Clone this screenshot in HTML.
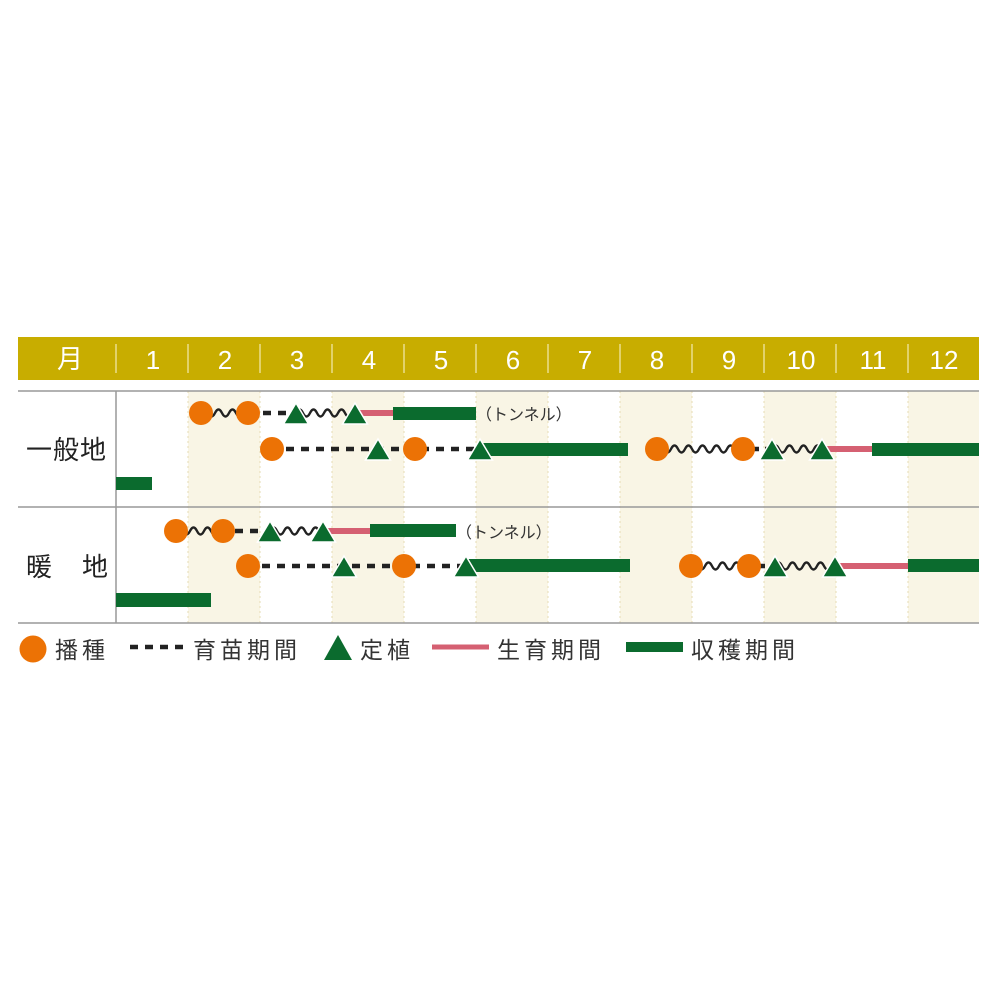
<!DOCTYPE html>
<html><head><meta charset="utf-8"><style>
html,body{margin:0;padding:0;background:#fff;}
svg{display:block;}
text{font-family:"Liberation Sans","Noto Sans CJK JP",sans-serif;}
</style></head><body>
<svg width="1000" height="1000" viewBox="0 0 1000 1000" xmlns="http://www.w3.org/2000/svg">
<defs>
<path id="tri" d="M0,-21 L12.5,0 L-12.5,0 Z" fill="#0b6b2e" stroke="#fff" stroke-width="1.5"/>
</defs>
<g fill="#f9f5e5">
<rect x="188" y="391" width="72" height="232"/>
<rect x="332" y="391" width="72" height="232"/>
<rect x="476" y="391" width="72" height="232"/>
<rect x="620" y="391" width="72" height="232"/>
<rect x="764" y="391" width="72" height="232"/>
<rect x="908" y="391" width="71" height="232"/>
</g>
<g stroke="#e6dcb4" stroke-width="1" stroke-dasharray="2,3">
<line x1="188" y1="391" x2="188" y2="623"/><line x1="260" y1="391" x2="260" y2="623"/>
<line x1="332" y1="391" x2="332" y2="623"/><line x1="404" y1="391" x2="404" y2="623"/>
<line x1="476" y1="391" x2="476" y2="623"/><line x1="548" y1="391" x2="548" y2="623"/>
<line x1="620" y1="391" x2="620" y2="623"/><line x1="692" y1="391" x2="692" y2="623"/>
<line x1="764" y1="391" x2="764" y2="623"/><line x1="836" y1="391" x2="836" y2="623"/>
<line x1="908" y1="391" x2="908" y2="623"/>
</g>
<rect x="18" y="337" width="961" height="43" fill="#c8ad00"/>
<g stroke="#f3ebb0" stroke-width="1.2">
<line x1="116" y1="344" x2="116" y2="373"/><line x1="188" y1="344" x2="188" y2="373"/>
<line x1="260" y1="344" x2="260" y2="373"/><line x1="332" y1="344" x2="332" y2="373"/>
<line x1="404" y1="344" x2="404" y2="373"/><line x1="476" y1="344" x2="476" y2="373"/>
<line x1="548" y1="344" x2="548" y2="373"/><line x1="620" y1="344" x2="620" y2="373"/>
<line x1="692" y1="344" x2="692" y2="373"/><line x1="764" y1="344" x2="764" y2="373"/>
<line x1="836" y1="344" x2="836" y2="373"/><line x1="908" y1="344" x2="908" y2="373"/>
</g>
<g fill="#fff" font-size="26" text-anchor="middle">
<text x="70" y="368">月</text>
<text x="153" y="369">1</text><text x="225" y="369">2</text><text x="297" y="369">3</text>
<text x="369" y="369">4</text><text x="441" y="369">5</text><text x="513" y="369">6</text>
<text x="585" y="369">7</text><text x="657" y="369">8</text><text x="729" y="369">9</text>
<text x="801" y="369">10</text><text x="873" y="369">11</text><text x="944" y="369">12</text>
</g>
<g stroke="#999" stroke-width="1.5">
<line x1="18" y1="391" x2="979" y2="391"/>
<line x1="18" y1="507" x2="979" y2="507"/>
<line x1="18" y1="623" x2="979" y2="623"/>
<line x1="116" y1="391" x2="116" y2="623"/>
</g>
<g fill="#222" font-size="26">
<text x="26" y="459" letter-spacing="1">一般地</text>
<text x="26" y="576">暖</text><text x="82" y="576">地</text>
</g>

<!-- Row 1 line 1 -->
<g fill="none" stroke="#222" stroke-width="2.4">
<path d="M201,413 q3.5,-7 7,0 t7,0 t7,0 t7,0 t7,0 t7,0 t7,0"/>
<path d="M296,413 q3.5,-7 7,0 t7,0 t7,0 t7,0 t7,0 t7,0 t7,0 t7,0"/>
<path d="M657,449 q3.5,-7 7,0 t7,0 t7,0 t7,0 t7,0 t7,0 t7,0 t7,0 t7,0 t7,0 t7,0 t7,0"/>
<path d="M772,449 q3.5,-7 7,0 t7,0 t7,0 t7,0 t7,0 t7,0 t7,0"/>
<path d="M176,531 q3.5,-7 7,0 t7,0 t7,0 t7,0 t7,0 t7,0 t7,0"/>
<path d="M270,531 q3.5,-7 7,0 t7,0 t7,0 t7,0 t7,0 t7,0 t7,0 t7,0"/>
<path d="M691,566 q3.5,-7 7,0 t7,0 t7,0 t7,0 t7,0 t7,0 t7,0 t7,0"/>
<path d="M775,566 q3.5,-7 7,0 t7,0 t7,0 t7,0 t7,0 t7,0 t7,0 t7,0"/>
</g>
<line x1="248" y1="413" x2="296" y2="413" stroke="#222" stroke-width="4.5" stroke-dasharray="8,7"/>
<line x1="355" y1="413" x2="393" y2="413" stroke="#d56072" stroke-width="6"/>
<rect x="393" y="407" width="83" height="13" fill="#0b6b2e"/>
<circle cx="201" cy="413" r="12" fill="#ec7205"/><circle cx="248" cy="413" r="12" fill="#ec7205"/>
<use href="#tri" x="296" y="424"/><use href="#tri" x="355" y="424"/>
<text x="476" y="420" font-size="16" fill="#333">（トンネル）</text>

<!-- Row 1 line 2 -->
<line x1="272" y1="449" x2="480" y2="449" stroke="#222" stroke-width="4.5" stroke-dasharray="8,7" stroke-dashoffset="-14"/>
<rect x="480" y="443" width="148" height="13" fill="#0b6b2e"/>
<circle cx="272" cy="449" r="12" fill="#ec7205"/><circle cx="415" cy="449" r="12" fill="#ec7205"/>
<use href="#tri" x="378" y="460"/><use href="#tri" x="480" y="460"/>
<line x1="743" y1="449" x2="772" y2="449" stroke="#222" stroke-width="4.5" stroke-dasharray="6,6" stroke-dashoffset="-10"/>
<line x1="822" y1="449" x2="872" y2="449" stroke="#d56072" stroke-width="6"/>
<rect x="872" y="443" width="107" height="13" fill="#0b6b2e"/>
<circle cx="657" cy="449" r="12" fill="#ec7205"/><circle cx="743" cy="449" r="12" fill="#ec7205"/>
<use href="#tri" x="772" y="460"/><use href="#tri" x="822" y="460"/>
<rect x="116" y="477" width="36" height="13" fill="#0b6b2e"/>

<!-- Row 2 line 1 -->
<line x1="223" y1="531" x2="270" y2="531" stroke="#222" stroke-width="4.5" stroke-dasharray="8,7" stroke-dashoffset="-12"/>
<line x1="323" y1="531" x2="370" y2="531" stroke="#d56072" stroke-width="6"/>
<rect x="370" y="524" width="86" height="13" fill="#0b6b2e"/>
<circle cx="176" cy="531" r="12" fill="#ec7205"/><circle cx="223" cy="531" r="12" fill="#ec7205"/>
<use href="#tri" x="270" y="542"/><use href="#tri" x="323" y="542"/>
<text x="456" y="538" font-size="16" fill="#333">（トンネル）</text>

<!-- Row 2 line 2 -->
<line x1="248" y1="566" x2="466" y2="566" stroke="#222" stroke-width="4.5" stroke-dasharray="8,7" stroke-dashoffset="-14"/>
<rect x="466" y="559" width="164" height="13" fill="#0b6b2e"/>
<circle cx="248" cy="566" r="12" fill="#ec7205"/><circle cx="404" cy="566" r="12" fill="#ec7205"/>
<use href="#tri" x="344" y="577"/><use href="#tri" x="466" y="577"/>
<line x1="749" y1="566" x2="775" y2="566" stroke="#222" stroke-width="4.5" stroke-dasharray="6,6" stroke-dashoffset="-10"/>
<line x1="835" y1="566" x2="908" y2="566" stroke="#d56072" stroke-width="6"/>
<rect x="908" y="559" width="71" height="13" fill="#0b6b2e"/>
<circle cx="691" cy="566" r="12" fill="#ec7205"/><circle cx="749" cy="566" r="12" fill="#ec7205"/>
<use href="#tri" x="775" y="577"/><use href="#tri" x="835" y="577"/>
<rect x="116" y="593" width="95" height="14" fill="#0b6b2e"/>

<!-- Legend -->
<circle cx="33" cy="649" r="13.5" fill="#ec7205"/>
<line x1="130" y1="647" x2="186" y2="647" stroke="#222" stroke-width="4.5" stroke-dasharray="8,7"/>
<path d="M338,635 L352,660 L324,660 Z" fill="#0b6b2e"/>
<line x1="432" y1="647" x2="489" y2="647" stroke="#d56072" stroke-width="5"/>
<rect x="626" y="642" width="57" height="10" fill="#0b6b2e"/>
<g fill="#333" font-size="23" letter-spacing="4">
<text x="55" y="658">播種</text>
<text x="193" y="658">育苗期間</text>
<text x="360" y="658">定植</text>
<text x="497" y="658">生育期間</text>
<text x="691" y="658">収穫期間</text>
</g>
</svg>
</body></html>
